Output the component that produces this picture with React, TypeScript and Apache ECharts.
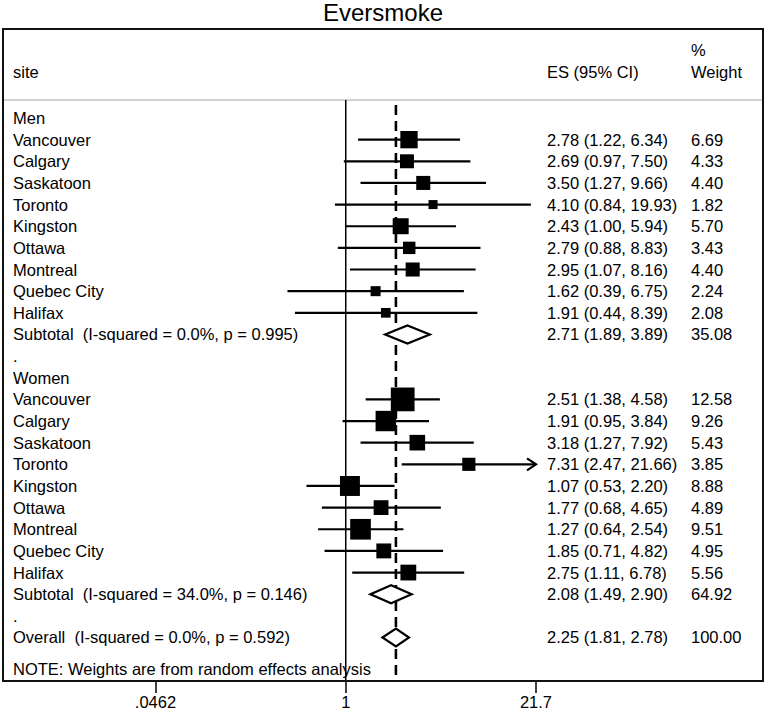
import React, { useEffect, useRef } from 'react';
import * as echarts from 'echarts';

const title = 'Eversmoke';
const groups = ['Men', 'Women'];
const sites = ['Vancouver', 'Calgary', 'Saskatoon', 'Toronto', 'Kingston', 'Ottawa', 'Montreal', 'Quebec City', 'Halifax'];

const menES = [2.78, 2.69, 3.5, 4.1, 2.43, 2.79, 2.95, 1.62, 1.91];
const menLo = [1.22, 0.97, 1.27, 0.84, 1.0, 0.88, 1.07, 0.39, 0.44];
const menHi = [6.34, 7.5, 9.66, 19.93, 5.94, 8.83, 8.16, 6.75, 8.39];
const menW = [6.69, 4.33, 4.4, 1.82, 5.7, 3.43, 4.4, 2.24, 2.08];

const womenES = [2.51, 1.91, 3.18, 7.31, 1.07, 1.77, 1.27, 1.85, 2.75];
const womenLo = [1.38, 0.95, 1.27, 2.47, 0.53, 0.68, 0.64, 0.71, 1.11];
const womenHi = [4.58, 3.84, 7.92, 21.66, 2.2, 4.65, 2.54, 4.82, 6.78];
const womenW = [12.58, 9.26, 5.43, 3.85, 8.88, 4.89, 9.51, 4.95, 5.56];

const subtotalES = [2.71, 2.08];
const subtotalLo = [1.89, 1.49];
const subtotalHi = [3.89, 2.9];
const subtotalW = [35.08, 64.92];
const subtotalI2 = ['0.0%', '34.0%'];
const subtotalP = ['0.995', '0.146'];

const overallES = 2.25;
const overallLo = 1.81;
const overallHi = 2.78;
const overallW = 100;
const overallI2 = '0.0%';
const overallP = '0.592';

const noteText = 'NOTE: Weights are from random effects analysis';
const headerSite = 'site';
const headerES = 'ES (95% CI)';
const headerWeight = ['%', 'Weight'];

const tickValues = [0.0462, 1, 21.65];
const tickLabels = ['.0462', '1', '21.7'];

// ---- layout constants ----
const FONT = '"Liberation Sans", Arial, Helvetica, sans-serif';
const FS = 16.5;
const X_LABEL = 13;
const X_ES = 547;
const X_W = 691;
const Y_MIN = -0.8316;
const Y_MAX = 26.01;
const DASH_START = -0.6006;
const NOTE_ROW = 25.455;

type Row = {
  row: number;
  label: string;
  kind: 'label' | 'study' | 'pooled';
  es?: number;
  lo?: number;
  hi?: number;
  w?: number;
};

function buildRows(): Row[] {
  const rows: Row[] = [];
  const ESs = [menES, womenES];
  const Los = [menLo, womenLo];
  const His = [menHi, womenHi];
  const Ws = [menW, womenW];
  let r = 0;
  groups.forEach((g, gi) => {
    rows.push({ row: r++, label: g, kind: 'label' });
    sites.forEach((s, i) => {
      rows.push({ row: r++, label: s, kind: 'study', es: ESs[gi][i], lo: Los[gi][i], hi: His[gi][i], w: Ws[gi][i] });
    });
    rows.push({
      row: r++,
      label: `Subtotal  (I-squared = ${subtotalI2[gi]}, p = ${subtotalP[gi]})`,
      kind: 'pooled',
      es: subtotalES[gi],
      lo: subtotalLo[gi],
      hi: subtotalHi[gi],
      w: subtotalW[gi],
    });
    rows.push({ row: r++, label: '.', kind: 'label' });
  });
  rows.push({
    row: r++,
    label: `Overall  (I-squared = ${overallI2}, p = ${overallP})`,
    kind: 'pooled',
    es: overallES,
    lo: overallLo,
    hi: overallHi,
    w: overallW,
  });
  return rows;
}

const rows = buildRows();
const studyRows = rows.filter((r) => r.kind === 'study');
const pooledRows = rows.filter((r) => r.kind === 'pooled');

const fmt = (v: number) => v.toFixed(2);

export default function App() {
  const ref = useRef<HTMLDivElement>(null);
  useEffect(() => {
    if (!ref.current) return;
    const chart = echarts.init(ref.current, undefined, { renderer: 'svg' });
    const xMax = tickValues[tickValues.length - 1];

    const textStyle = (text: string, x: number, y: number) => ({
      type: 'text',
      x,
      y,
      style: { text, fill: '#000', fontSize: FS, fontFamily: FONT, align: 'left', verticalAlign: 'middle' },
    });

    chart.setOption({
      animation: false,
      backgroundColor: '#fff',
      grid: { left: 155.5, top: 100, width: 380.5, height: 581 },
      xAxis: {
        type: 'log',
        logBase: 10,
        position: 'bottom',
        min: tickValues[0],
        max: xMax,
        axisLine: { show: false, onZero: false },
        splitLine: { show: false },
        minorTick: { show: false },
        axisTick: {
          show: true,
          length: 12,
          lineStyle: { color: '#000', width: 1.5 },
          customValues: tickValues,
        },
        axisLabel: {
          show: true,
          customValues: tickValues,
          margin: 12,
          color: '#000',
          fontSize: FS,
          fontFamily: FONT,
          formatter: (v: number) => {
            let best = 0;
            tickValues.forEach((t, i) => {
              if (Math.abs(Math.log(t) - Math.log(v)) < Math.abs(Math.log(tickValues[best]) - Math.log(v))) best = i;
            });
            return tickLabels[best];
          },
        },
      },
      yAxis: { type: 'value', inverse: true, min: Y_MIN, max: Y_MAX, show: false },
      graphic: [
        {
          type: 'text',
          x: 383,
          y: 12,
          style: { text: title, fill: '#000', fontSize: 24, fontFamily: FONT, align: 'center', verticalAlign: 'middle' },
        },
        {
          type: 'rect',
          shape: { x: 3, y: 29, width: 760, height: 652 },
          style: { fill: 'none', stroke: '#111', lineWidth: 2 },
          z: 10,
        },
        {
          type: 'line',
          shape: { x1: 4, y1: 100, x2: 762, y2: 100 },
          style: { stroke: '#c4c4c4', lineWidth: 1.5 },
        },
        textStyle(headerSite, X_LABEL, 72),
        textStyle(headerES, X_ES, 72),
        textStyle(headerWeight[0], X_W, 50),
        textStyle(headerWeight[1], X_W, 72),
      ],
      series: [
        {
          type: 'custom',
          name: 'reference',
          z: 1,
          clip: false,
          data: [
            [1, Y_MIN, 0],
            [overallES, DASH_START, 1],
          ],
          renderItem: (params: any, api: any) => {
            const x = api.value(0);
            const a = api.coord([x, api.value(1)]);
            const b = api.coord([x, Y_MAX]);
            const dashed = api.value(2) === 1;
            return {
              type: 'line',
              shape: { x1: a[0], y1: a[1], x2: b[0], y2: b[1] },
              style: dashed
                ? { stroke: '#000', lineWidth: 2.6, lineDash: [10, 6] }
                : { stroke: '#000', lineWidth: 1.5 },
            };
          },
        },
        {
          type: 'custom',
          name: 'studies',
          z: 3,
          clip: false,
          data: studyRows.map((r) => [r.es, r.row, r.lo, r.hi, r.w]),
          renderItem: (params: any, api: any) => {
            const es = api.value(0);
            const row = api.value(1);
            const lo = api.value(2);
            const hi = api.value(3);
            const w = api.value(4);
            const c = api.coord([es, row]);
            const pLo = api.coord([lo, row]);
            const clipped = hi > xMax;
            const pHi = api.coord([clipped ? xMax : hi, row]);
            const s = 6.7 * Math.sqrt(w);
            const children: any[] = [
              {
                type: 'line',
                shape: { x1: pLo[0], y1: pLo[1], x2: pHi[0], y2: pHi[1] },
                style: { stroke: '#000', lineWidth: 2.2 },
              },
              {
                type: 'rect',
                shape: { x: c[0] - s / 2, y: c[1] - s / 2, width: s, height: s },
                style: { fill: '#000' },
              },
            ];
            if (clipped) {
              children.push({
                type: 'polyline',
                shape: { points: [[pHi[0] - 9, pHi[1] - 6], [pHi[0], pHi[1]], [pHi[0] - 9, pHi[1] + 6]] },
                style: { stroke: '#000', lineWidth: 2.2, fill: 'none' },
              });
            }
            return { type: 'group', children };
          },
        },
        {
          type: 'custom',
          name: 'pooled',
          z: 4,
          clip: false,
          data: pooledRows.map((r) => [r.es, r.row, r.lo, r.hi]),
          renderItem: (params: any, api: any) => {
            const row = api.value(1);
            const c = api.coord([api.value(0), row]);
            const pLo = api.coord([api.value(2), row]);
            const pHi = api.coord([api.value(3), row]);
            const h = 9;
            return {
              type: 'polygon',
              shape: { points: [[pLo[0], c[1]], [c[0], c[1] - h], [pHi[0], c[1]], [c[0], c[1] + h]] },
              style: { fill: '#fff', stroke: '#000', lineWidth: 2.2 },
            };
          },
        },
        {
          type: 'custom',
          name: 'texts',
          z: 5,
          clip: false,
          data: rows.map((r) => [1, r.row]).concat([[1, NOTE_ROW]]),
          renderItem: (params: any, api: any) => {
            const y = api.coord([1, api.value(1)])[1];
            const r = rows[params.dataIndex];
            if (!r) {
              return textStyle(noteText, X_LABEL, y);
            }
            const children: any[] = [textStyle(r.label, X_LABEL, y)];
            if (r.kind !== 'label') {
              children.push(textStyle(`${fmt(r.es!)} (${fmt(r.lo!)}, ${fmt(r.hi!)})`, X_ES, y));
              children.push(textStyle(fmt(r.w!), X_W, y));
            }
            return { type: 'group', children };
          },
        },
      ],
    });
    return () => chart.dispose();
  }, []);
  return <div ref={ref} style={{ position: 'fixed', left: 0, top: 0, width: 767, height: 712, background: '#fff' }} />;
}
